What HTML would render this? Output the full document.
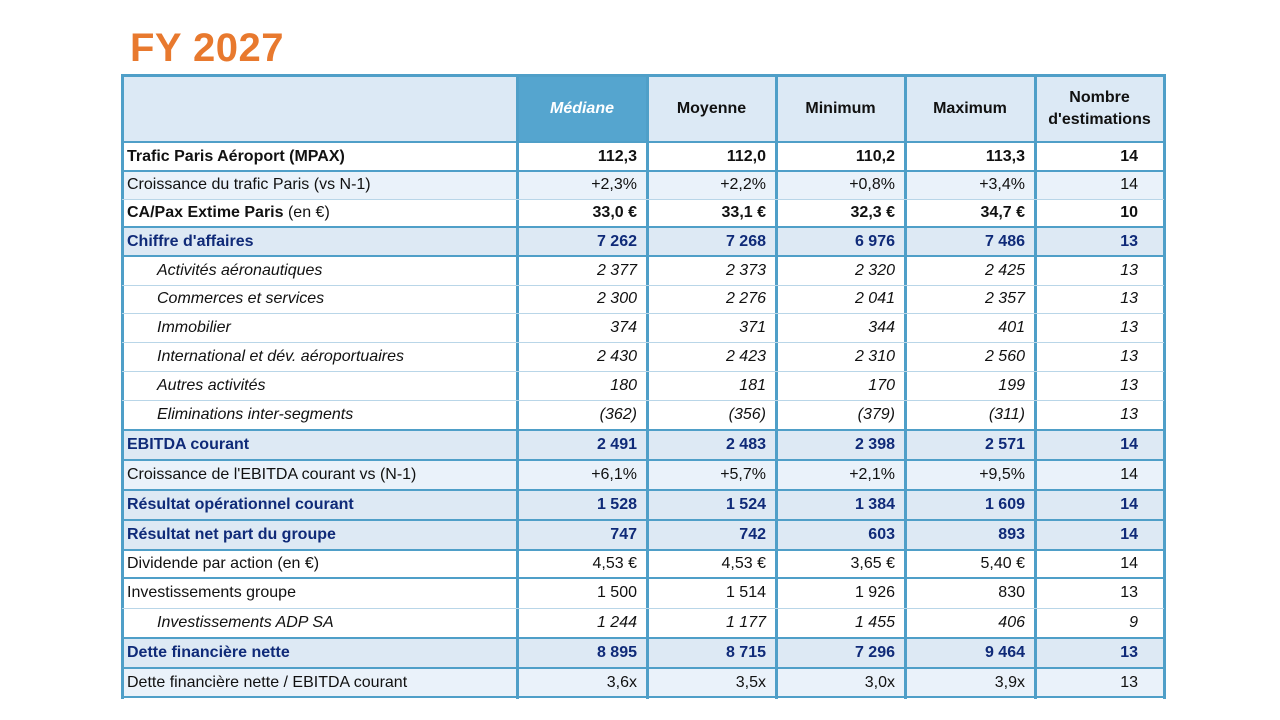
<!DOCTYPE html>
<html><head><meta charset="utf-8">
<style>
body{margin:0;width:1280px;height:720px;background:#fff;position:relative;overflow:hidden;font-family:"Liberation Sans",sans-serif;}
#title{position:absolute;left:130px;top:26px;font-size:40px;font-weight:bold;color:#e8792e;letter-spacing:0.5px;}
.c{position:absolute;box-sizing:border-box;font-size:16px;color:#111;display:flex;align-items:center;white-space:nowrap;}
.hl{position:absolute;background:#4f9fc8;}
.tl{position:absolute;background:#b9d6e8;}
</style></head>
<body>
<div id="title">FY 2027</div>
<div id="tbl"></div>
<script>
const cols=[122,517,647,776,905,1035,1164];
const headers=["","Médiane","Moyenne","Minimum","Maximum","Nombre<br>d'estimations"];
const rows=[
["Trafic Paris Aéroport (MPAX)",["112,3","112,0","110,2","113,3","14"],"b",171,1],
["Croissance du trafic Paris (vs N-1)",["+2,3%","+2,2%","+0,8%","+3,4%","14"],"l",199,0],
["<b>CA/Pax Extime Paris</b>&nbsp;(en €)",["33,0 €","33,1 €","32,3 €","34,7 €","10"],"bw",227,1],
["Chiffre d'affaires",["7 262","7 268","6 976","7 486","13"],"s",256,1],
["Activités aéronautiques",["2 377","2 373","2 320","2 425","13"],"i",285,0],
["Commerces et services",["2 300","2 276","2 041","2 357","13"],"i",313,0],
["Immobilier",["374","371","344","401","13"],"i",342,0],
["International et dév. aéroportuaires",["2 430","2 423","2 310","2 560","13"],"i",371,0],
["Autres activités",["180","181","170","199","13"],"i",400,0],
["Eliminations inter-segments",["(362)","(356)","(379)","(311)","13"],"i",430,1],
["EBITDA courant",["2 491","2 483","2 398","2 571","14"],"s",460,1],
["Croissance de l'EBITDA courant vs (N-1)",["+6,1%","+5,7%","+2,1%","+9,5%","14"],"l",490,1],
["Résultat opérationnel courant",["1 528","1 524","1 384","1 609","14"],"s",520,1],
["Résultat net part du groupe",["747","742","603","893","14"],"s",550,1],
["Dividende  par action (en €)",["4,53 €","4,53 €","3,65 €","5,40 €","14"],"w",578,1],
["Investissements groupe",["1 500","1 514","1 926","830","13"],"w",608,0],
["Investissements ADP SA",["1 244","1 177","1 455","406","9"],"i",638,1],
["Dette financière nette",["8 895","8 715","7 296","9 464","13"],"s",668,1],
["Dette financière nette / EBITDA courant",["3,6x","3,5x","3,0x","3,9x","13"],"l",697,1]
];
const T=document.getElementById('tbl');
function cell(x,y,w,h,html,bg,css,name){
 const d=document.createElement('div');d.className='c';
 d.style.cssText+=`left:${x}px;top:${y}px;width:${w}px;height:${h}px;background:${bg};`+css;
 d.innerHTML=html;
 
 
 T.appendChild(d);return d;
}
for(let i=0;i<6;i++){
 const bg=i==1?'#55a5cf':'#dce9f5';
 const css=i==1?'color:#fff;font-style:italic;font-weight:bold;justify-content:center;':'font-weight:bold;justify-content:center;text-align:center;line-height:22px;';
 cell(cols[i],75,cols[i+1]-cols[i],67,headers[i],bg,css,'header-'+(i==0?'blank':headers[i].replace(/<br>.*/,'').toLowerCase().replace(/[^a-z]/g,'')));
}
let y=142;
rows.forEach((r,ri)=>{
 const [lab,vals,st,by]=r;const h=by-y;
 let bg='#fff',css='',color='#111';
 if(st=='l')bg='#eaf2fa';
 if(st=='s'){bg='#dde9f4';color='#0f2a78';css='font-weight:bold;';}
 if(st=='b')css='font-weight:bold;';
 const italic=st=='i'?'font-style:italic;':'';
 cell(cols[0],y,cols[1]-cols[0],h,lab,bg,`padding-left:${st=='i'?35:5}px;color:${color};${css}${italic}`,'row-label-'+ri);
 vals.forEach((v,vi)=>{
  const vcss=(st=='bw')?'font-weight:bold;':css;
  cell(cols[vi+1],y,cols[vi+2]-cols[vi+1],h,v,bg,`justify-content:flex-end;padding-right:${vi==4?26:10}px;color:${color};${vcss}${italic}`,'row-'+ri+'-value-'+vi);
 });
 y=by;
});
function line(cls,x,y,w,h){const d=document.createElement('div');d.className=cls;d.style.cssText=`left:${x}px;top:${y}px;width:${w}px;height:${h}px;`;T.appendChild(d);}
cols.forEach(x=>line('hl',x-1,74,3,625));
line('hl',121,74,1045,3);
line('hl',121,141,1045,2);
rows.forEach(r=>{ if(r[4])line('hl',121,r[3]-1,1045,2); else line('tl',122,r[3],1042,1);});
</script>
</body></html>
